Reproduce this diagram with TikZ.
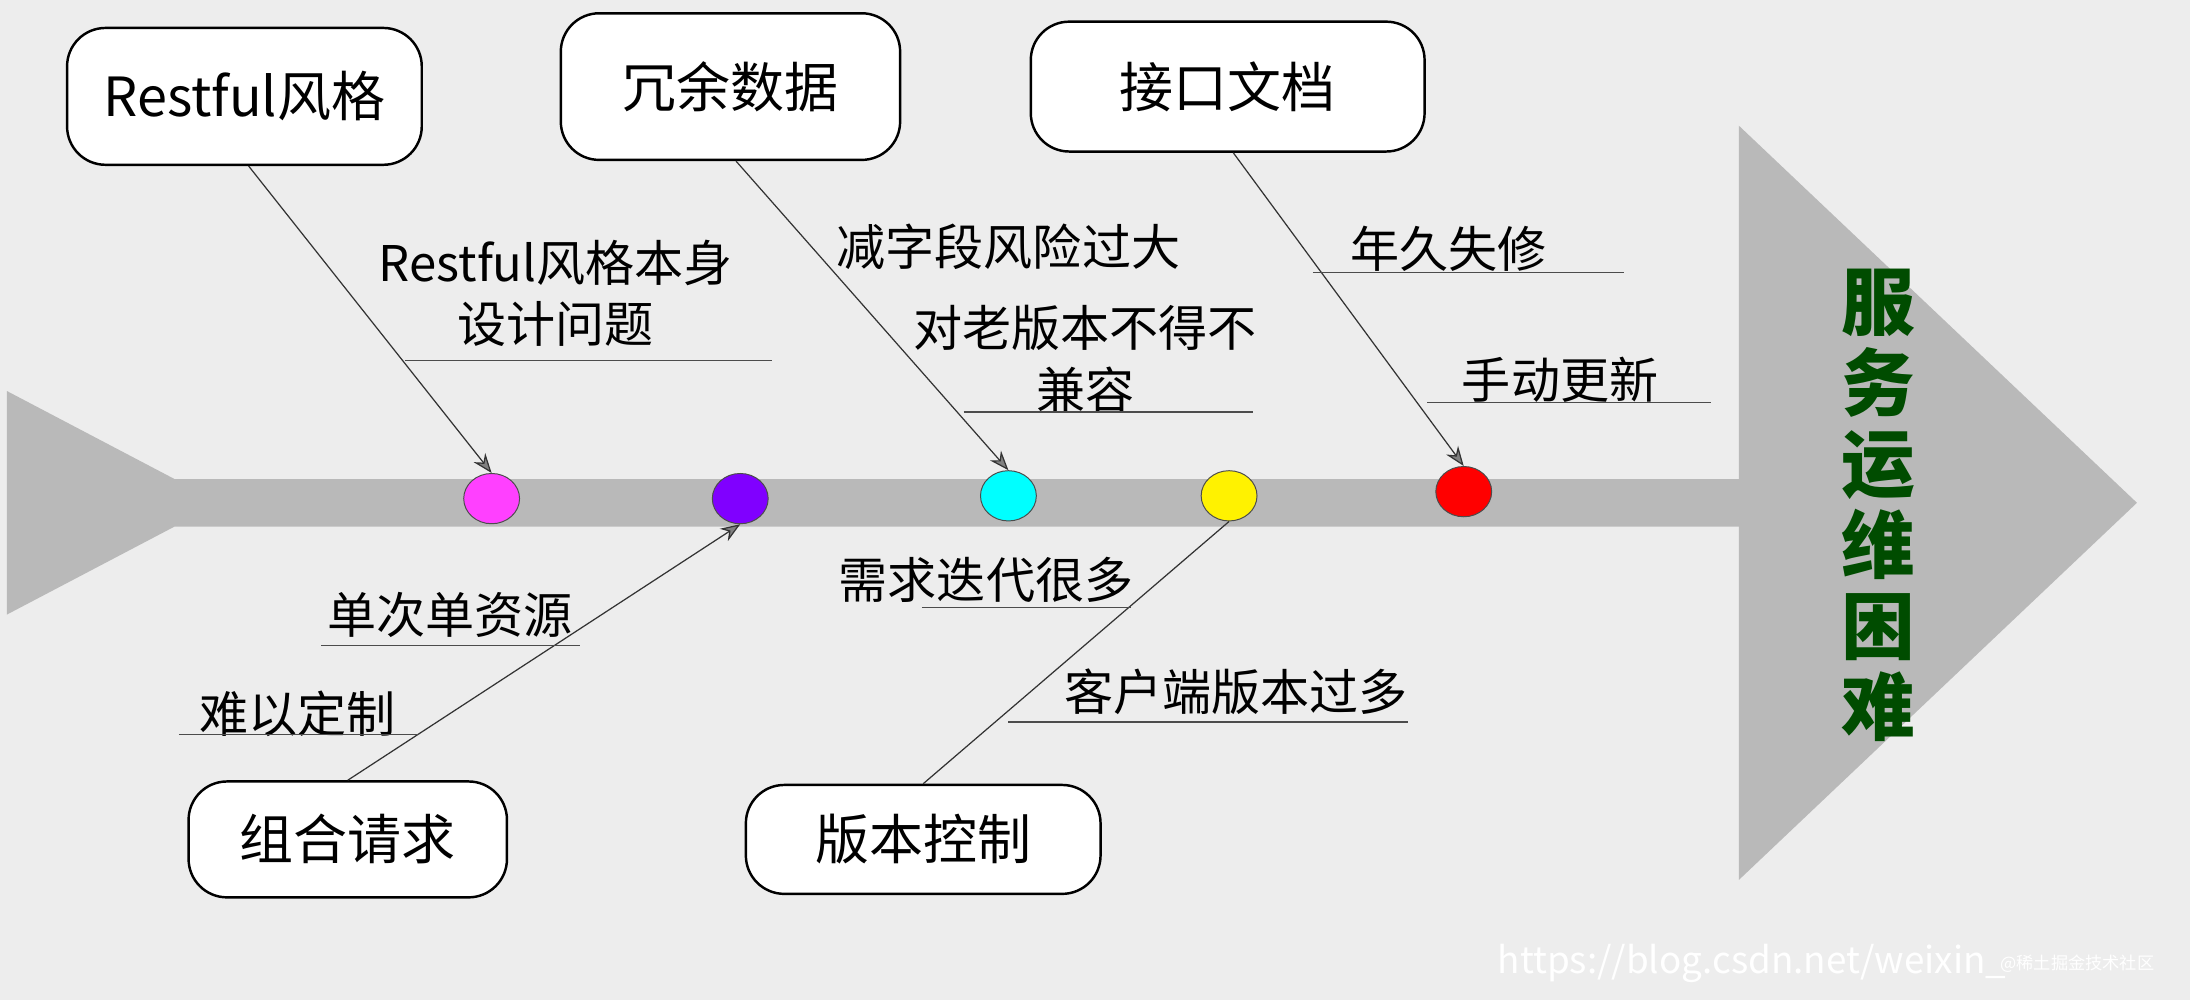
\documentclass[tikz,border=0pt]{standalone}
\usepackage{fontspec}
\setmainfont{Noto Sans CJK SC}
\usetikzlibrary{arrows.meta,shapes.geometric}
\definecolor{mag}{HTML}{FF40FF}
\definecolor{pur}{HTML}{8000FF}
\definecolor{cya}{HTML}{00FFFF}
\begin{document}
\begin{tikzpicture}[x=0.02cm,y=-0.02cm,
 box/.style={draw=black,line width=1pt,fill=white,rounded corners=0.55cm,font=\fontsize{22}{26}\selectfont},
 lbl/.style={font=\fontsize{20}{25}\selectfont,align=center,inner sep=0pt},
 uline/.style={draw=gray!60!black,line width=0.6pt},
 conn/.style={draw=black!80,line width=0.5pt},
 dot/.style={ellipse,draw=gray!60!black,line width=0.4pt,minimum width=0.8cm,minimum height=0.72cm,inner sep=0pt}]
\useasboundingbox (0,0) rectangle (1568,716);
\fill[gray!14] (0,0) rectangle (1568,716);
% spine
\fill[gray!55] (5,280) -- (125,343) -- (1250,343) -- (1250,377) -- (125,377) -- (5,440) -- cycle;
\fill[gray!55] (1245,90) -- (1530,360) -- (1245,630) -- cycle;
\node[font=\bfseries\fontsize{30}{33}\selectfont,text=green!30!black,align=center,inner sep=0pt] (goal) at (1345,362) {服\\务\\运\\维\\困\\难};
% boxes
\node[box,minimum width=5.08cm,minimum height=1.96cm] (b1) at (175,69) {Restful风格};
\node[box,minimum width=4.86cm,minimum height=2.1cm] (b2) at (523,62) {冗余数据};
\node[box,minimum width=5.64cm,minimum height=1.86cm] (b3) at (879,62) {接口文档};
\node[box,minimum width=4.56cm,minimum height=1.66cm] (b4) at (249,601) {组合请求};
\node[box,minimum width=5.08cm,minimum height=1.56cm] (b5) at (661,601) {版本控制};
% dots
\node[dot,fill=mag] (d1) at (352,357) {};
\node[dot,fill=pur] (d2) at (530,357) {};
\node[dot,fill=cya] (d3) at (722,355) {};
\node[dot,fill=yellow] (d4) at (880,355) {};
\node[dot,fill=red] (d5) at (1048,352) {};
% connectors
\draw[conn,-{Stealth[length=8pt,width=6pt,open,fill=gray]}] (b1.south) ++(3,0) coordinate (c1) -- (d1.north);
\draw[conn,-{Stealth[length=8pt,width=6pt,open,fill=gray]}] (b2.south) ++(4,0) coordinate (c2) -- (d3.north);
\draw[conn,-{Stealth[length=8pt,width=6pt,open,fill=gray]}] (b3.south) ++(4,0) coordinate (c3) -- (d5.north);
\draw[conn,-{Stealth[length=8pt,width=6pt,open,fill=gray]}] (b4.north) -- (d2.south);
\draw[conn] (b5.north) -- (d4.south);
% labels
\node[lbl] (l1) at (398,210) {Restful风格本身\\设计问题};
\draw[uline] (290,258) -- (553,258);
\node[lbl] (l2) at (722,177) {减字段风险过大};
\node[lbl] (l3) at (777,257) {对老版本不得不\\兼容};
\draw[uline] (690,295) -- (897,295);
\node[lbl] (l4) at (1037,178) {年久失修};
\draw[uline] (940,195) -- (1163,195);
\node[lbl] (l5) at (1117,272) {手动更新};
\draw[uline] (1022,288) -- (1225,288);
\node[lbl] (l6) at (322,440) {单次单资源};
\draw[uline] (230,462) -- (415,462);
\node[lbl] (l7) at (213,511) {难以定制};
\draw[uline] (128,526) -- (300,526);
\node[lbl] (l8) at (706,415) {需求迭代很多};
\draw[uline] (660,435) -- (810,435);
\node[lbl] (l9) at (885,495) {客户端版本过多};
\draw[uline] (722,517) -- (1008,517);
% watermark
\node[font=\fontsize{15}{18}\selectfont,text=white,anchor=west,inner sep=0pt] (w1) at (1072,690) {https://blog.csdn.net/weixin\_};
\node[font=\fontsize{7}{9}\selectfont,text=white,anchor=west,inner sep=0pt] (w2) at (1432,690) {@稀土掘金技术社区};
\end{tikzpicture}
\end{document}
